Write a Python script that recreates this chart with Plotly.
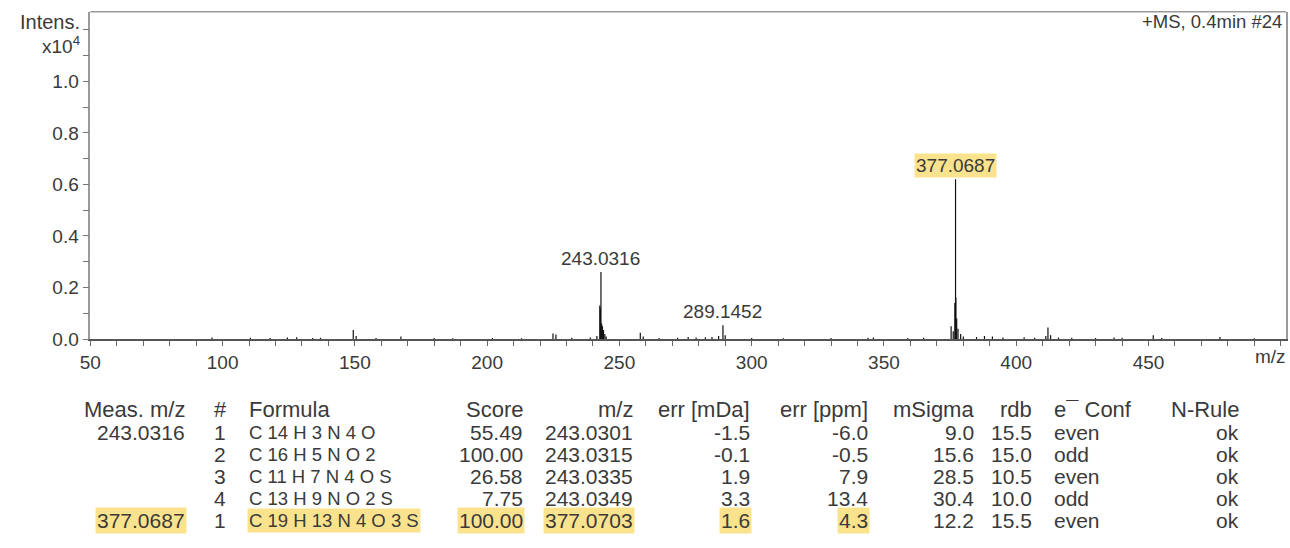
import plotly.graph_objects as go

# ---- spectrum (m/z, intensity in units of 1e4) ----
mz = [96.0, 110.5, 118.0, 124.5, 128.0, 134.0, 137.0, 149.4, 150.5, 158.0,
      167.4, 180.0, 187.0, 202.0, 213.0, 224.9, 226.0, 232.0, 239.0, 241.5,
      242.6, 242.8, 243.0316, 243.3, 243.6, 244.0, 244.5, 245.0, 257.9, 259.0,
      265.0, 272.0, 276.0, 279.0, 282.5, 285.0, 287.5, 289.1452, 290.0, 300.0,
      312.0, 330.0, 344.0, 346.0, 359.0, 365.0, 375.4, 376.2, 376.8, 377.0687,
      377.2, 377.5, 378.0, 379.0, 380.0, 385.0, 388.0, 391.0, 395.0, 403.0,
      407.0, 411.2, 412.0, 413.0, 416.0, 421.0, 430.0, 437.0, 440.0, 451.8,
      455.0, 477.0, 490.0]
intensity = [0.006, 0.005, 0.004, 0.006, 0.007, 0.004, 0.005, 0.035, 0.012, 0.004,
             0.010, 0.004, 0.003, 0.004, 0.003, 0.022, 0.018, 0.005, 0.006, 0.012,
             0.130, 0.120, 0.260, 0.060, 0.050, 0.035, 0.020, 0.010, 0.024, 0.010,
             0.004, 0.005, 0.008, 0.006, 0.007, 0.008, 0.012, 0.054, 0.015, 0.004,
             0.003, 0.004, 0.005, 0.006, 0.004, 0.005, 0.050, 0.030, 0.140, 0.620,
             0.160, 0.080, 0.040, 0.020, 0.010, 0.008, 0.012, 0.010, 0.006, 0.007,
             0.005, 0.012, 0.045, 0.015, 0.006, 0.005, 0.004, 0.006, 0.005, 0.015,
             0.004, 0.008, 0.003]

# labelled peaks (m/z label, highlighted?)
peak_labels = ["243.0316", "289.1452", "377.0687"]
peak_highlight = [False, False, True]

# ---- formula table ----
col_headers = ["Meas. m/z", "#", "Formula", "Score", "m/z", "err [mDa]",
               "err [ppm]", "mSigma", "rdb", "e\u00af Conf", "N-Rule"]
meas_mz = ["243.0316", "", "", "", "377.0687"]
rank = ["1", "2", "3", "4", "1"]
formula = ["C 14 H 3 N 4 O", "C 16 H 5 N O 2", "C 11 H 7 N 4 O S",
           "C 13 H 9 N O 2 S", "C 19 H 13 N 4 O 3 S"]
score = ["55.49", "100.00", "26.58", "7.75", "100.00"]
calc_mz = ["243.0301", "243.0315", "243.0335", "243.0349", "377.0703"]
err_mda = ["-1.5", "-0.1", "1.9", "3.3", "1.6"]
err_ppm = ["-6.0", "-0.5", "7.9", "13.4", "4.3"]
msigma = ["9.0", "15.6", "28.5", "30.4", "12.2"]
rdb = ["15.5", "15.0", "10.5", "10.0", "15.5"]
e_conf = ["even", "odd", "even", "odd", "even"]
n_rule = ["ok", "ok", "ok", "ok", "ok"]

W, H = 1290, 548
FONT = "Liberation Sans, Arial, sans-serif"
TXT = "#3a3a3a"
HL = "#fbe38e"

# plot area in pixels
px_l, px_r, px_t, px_b = 80, 1286, 12, 346
dom_x = [px_l / W, px_r / W]
dom_y = [1 - px_b / H, 1 - px_t / H]

fig = go.Figure()

# stick spectrum built from the peak list
xs, ys = [], []
for m, h in zip(mz, intensity):
    xs += [m, m, None]
    ys += [0, h, None]
fig.add_trace(go.Scatter(x=xs, y=ys, mode="lines",
                         line=dict(color="#111111", width=1.2),
                         hoverinfo="skip", showlegend=False))

# peak labels
for lab, hl in zip(peak_labels, peak_highlight):
    m = float(lab)
    h = max(i for x, i in zip(mz, intensity) if abs(x - m) < 1e-6)
    fig.add_annotation(x=m, y=h, xref="x", yref="y", text=lab, showarrow=False,
                       yanchor="bottom", yshift=1,
                       font=dict(family=FONT, size=19, color=TXT),
                       bgcolor=HL if hl else "rgba(0,0,0,0)", borderpad=1)

fig.update_xaxes(domain=dom_x, range=[50, 502], showgrid=False, zeroline=False,
                 tickmode="array", tickvals=[50, 100, 150, 200, 250, 300, 350, 400, 450],
                 ticks="outside", ticklen=5, tickwidth=1, tickcolor="#666",
                 minor=dict(dtick=10, tick0=50, ticks="outside", ticklen=5,
                            tickcolor="#666", showgrid=False),
                 showline=True, linecolor="#555", linewidth=1.5,
                 tickfont=dict(family=FONT, size=19, color=TXT))
fig.update_yaxes(domain=dom_y, range=[0, 1.27], showgrid=False, zeroline=False,
                 tickmode="array", tickvals=[0, 0.2, 0.4, 0.6, 0.8, 1.0],
                 ticktext=["0.0", "0.2", "0.4", "0.6", "0.8", "1.0"],
                 ticks="outside", ticklen=6, tickwidth=1, tickcolor="#777",
                 minor=dict(dtick=0.1, tick0=0, ticks="outside", ticklen=6,
                            tickcolor="#777", showgrid=False),
                 showline=True, linecolor="#9a9a9a", linewidth=1.5, mirror=True,
                 tickfont=dict(family=FONT, size=19, color=TXT))

# top frame edge
fig.add_shape(type="line", xref="paper", yref="paper",
              x0=dom_x[0], x1=dom_x[1], y0=dom_y[1], y1=dom_y[1],
              line=dict(color="#9a9a9a", width=1.5))

def note(text, xpx, ypx, anchor="left", size=16, bg=None):
    fig.add_annotation(x=xpx / W, y=1 - ypx / H, xref="paper", yref="paper",
                       text=text, showarrow=False, xanchor=anchor, yanchor="middle",
                       font=dict(family=FONT, size=size, color=TXT),
                       bgcolor=bg if bg else "rgba(0,0,0,0)", borderpad=1)

note("Intens.", 72, 22, "right", 20)
note("x10<sup>4</sup>", 72, 46, "right", 19)
note("+MS, 0.4min #24", 1284, 22, "right", 18.5)
note("m/z", 1288, 364, "right", 19)

# table columns: (values, x pixel, anchor, value font size)
columns = [
    (meas_mz, 178, "right", 21),
    (rank, 211, "center", 21),
    (formula, 238, "left", 18.5),
    (score, 518, "right", 21),
    (calc_mz, 629, "right", 21),
    (err_mda, 747, "right", 21),
    (err_ppm, 866, "right", 21),
    (msigma, 973, "right", 21),
    (rdb, 1032, "right", 21),
    (e_conf, 1050, "left", 21),
    (n_rule, 1241, "right", 21),
]
header_y = 418
row_y = [441, 463.5, 486, 508.5, 531]
highlight_cells = {(4, 0), (4, 2), (4, 3), (4, 4), (4, 5), (4, 6)}

for ci, ((vals, xpx, anc, fs), head) in enumerate(zip(columns, col_headers)):
    note(head, xpx, header_y, anc, 22)
    for ri, v in enumerate(vals):
        if v:
            note(v, xpx, row_y[ri], anc, fs, HL if (ri, ci) in highlight_cells else None)

fig.update_layout(width=W, height=H, margin=dict(l=0, r=0, t=0, b=0),
                  paper_bgcolor="white", plot_bgcolor="white", showlegend=False)

fig.write_html("out.html")
